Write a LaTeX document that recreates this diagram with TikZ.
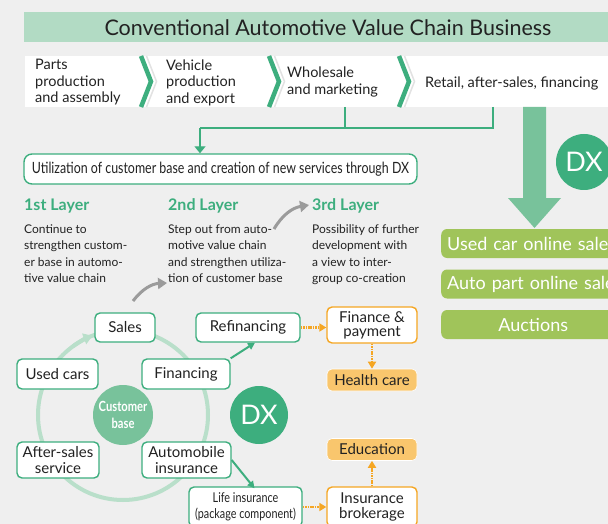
\documentclass[tikz,border=0pt]{standalone}
\usepackage{fontspec}
\setmainfont{Lato}
\newfontfamily\condfont[FakeStretch=0.8]{Lato}
\usetikzlibrary{arrows.meta, positioning}
\definecolor{bggray}{HTML}{EFEFEF}
\definecolor{gapgray}{HTML}{E2E2E2}
\definecolor{titlegreen}{HTML}{B2DBC4}
\definecolor{dxgreen}{HTML}{3DAE7E}
\definecolor{basegreen}{HTML}{78C29B}
\definecolor{ringgreen}{HTML}{B9DFCA}
\definecolor{limegreen}{HTML}{A0C45A}
\definecolor{dxorange}{HTML}{F5A623}
\definecolor{orfill}{HTML}{F9C66D}
\definecolor{arrgray}{HTML}{9B9B9B}
\definecolor{txt}{HTML}{222222}

\begin{document}
\begin{tikzpicture}[x=1pt, y=-1pt, >=Stealth,
    gbox/.style={rectangle, draw=dxgreen, line width=1.4pt, rounded corners=5pt, fill=white, align=center, text=txt, font=\fontsize{15}{15}\selectfont, inner sep=0pt},
    obox/.style={gbox, draw=dxorange},
    ofill/.style={gbox, draw=white, line width=0.6pt, fill=orfill},
    limebar/.style={rectangle, rounded corners=6pt, fill=limegreen, text=white, font=\fontsize{18}{18}\selectfont, minimum width=184pt, minimum height=29pt, text width=172pt, inner xsep=6pt, inner ysep=0pt, anchor=west},
    dxdot/.style={circle, fill=dxgreen, text=white, inner sep=0pt, font=\fontsize{27}{27}\selectfont},
    layerhead/.style={anchor=west, text=dxgreen, font=\bfseries\fontsize{16}{16}\selectfont, inner sep=0pt},
    layertext/.style={anchor=north west, align=left, text=txt, font=\fontsize{12}{16.4}\selectfont, inner sep=0pt},
    chaintext/.style={anchor=west, align=left, text=txt, font=\fontsize{14.5}{16.5}\selectfont, inner sep=0pt},
    garrow/.style={-{Triangle[length=7pt, width=7pt]}, draw=dxgreen, line width=2pt},
    oarrow/.style={-{Triangle[length=7pt, width=8pt]}, draw=dxorange, line width=2.6pt, dash pattern=on 1.6pt off 0.8pt},
    grayarrow/.style={-{Triangle[length=9pt, width=11pt]}, draw=arrgray, line width=3pt},
    chevron/.style={draw=dxgreen, line width=4.5pt},
    chevgap/.style={draw=gapgray, line width=1.5pt}]
  \useasboundingbox (0,0) rectangle (608,524);
  \fill[bggray] (0,0) rectangle (608,524);
  \clip (0,0) rectangle (608,524);

  % conventional value chain
  \fill[titlegreen] (24,12) rectangle (620,42);
  \node[text=txt, font=\fontsize{21.5}{21.5}\selectfont] (title) at (328,27.5) {Conventional Automotive Value Chain Business};
  \fill[white] (25,56) rectangle (620,107);
  \foreach \cx in {141,269,399} {
    \draw[chevron] (\cx,56) -- (\cx+10,81.5) -- (\cx,107);
    \draw[chevgap] (\cx+5.5,56) -- (\cx+15.5,81.5) -- (\cx+5.5,107);
  }
  \node[chaintext] (parts) at (35,82.5) {Parts\\production\\and assembly};
  \node[chaintext] (vehicle) at (166,82.5) {Vehicle\\production\\and export};
  \node[chaintext] (wholesale) at (287,82) {Wholesale\\and marketing};
  \node[chaintext] (retail) at (425,83) {Retail, after-sales, financing};

  % links to the DX box
  \coordinate (whsfoot) at (345,107);
  \coordinate (rtlfoot) at (493,107);
  \coordinate (join) at (200,128);
  \node[gbox, minimum width=393pt, minimum height=30pt, rounded corners=8pt, font=\condfont\fontsize{15.5}{15.5}\selectfont] (dxbox) at (220.5,169) {Utilization of customer base and creation of new services through DX};
  \draw[dxgreen, line width=1.3pt] (whsfoot) |- (join);
  \draw[dxgreen, line width=1.3pt] (rtlfoot) |- (join);
  \draw[dxgreen, line width=1.3pt, -{Triangle[length=7pt, width=11pt]}] (join) -- (dxbox.north -| join);

  % layers
  \node[layerhead] (layer1) at (24,206) {1st Layer};
  \node[layerhead] (layer2) at (168,206) {2nd Layer};
  \node[layerhead] (layer3) at (312,206) {3rd Layer};
  \node[layertext] (desc1) at (24,224.5) {Continue to\\strengthen custom-\\er base in automo-\\tive value chain};
  \node[layertext] (desc2) at (168,224.5) {Step out from auto-\\motive value chain\\and strengthen utiliza-\\tion of customer base};
  \node[layertext] (desc3) at (312,224.5) {Possibility of further\\development with\\a view to inter-\\group co-creation};
  \coordinate (up1s) at (133,301);
  \coordinate (up1e) at (167,283);
  \coordinate (up2s) at (274,229);
  \coordinate (up2e) at (309,205);
  \draw[grayarrow] (up1s) to[bend left=25] (up1e);
  \draw[grayarrow] (up2s) to[bend left=25] (up2e);

  % customer base ring
  \draw[ringgreen, line width=4pt] (123,415) circle[radius=85];
  \draw[ringgreen, line width=4pt, -{Triangle[length=9pt, width=11pt]}] (123,415) ++(-126:85) arc[start angle=-126, end angle=-111, radius=85];
  \node[circle, fill=basegreen, minimum size=60pt, inner sep=0pt, text=white, align=center, font=\condfont\bfseries\fontsize{14}{17}\selectfont] (cbase) at (123,415) {Customer\\base};
  \node[gbox, minimum width=60pt, minimum height=29pt] (sales) at (125,327.5) {Sales};
  \node[gbox, minimum width=81pt, minimum height=30pt] (usedcars) at (57.5,374) {Used cars};
  \node[gbox, minimum width=88pt, minimum height=30pt] (financing) at (186,374) {Financing};
  \node[gbox, minimum width=82pt, minimum height=36pt, font=\fontsize{15}{15.5}\selectfont] (aftersales) at (58,460) {After-sales\\service};
  \node[gbox, minimum width=89pt, minimum height=36pt, font=\fontsize{15}{15.5}\selectfont] (autoins) at (186.5,460) {Automobile\\insurance};

  % new services
  \node[dxdot, minimum size=58pt] (dxmid) at (259,415) {DX};
  \node[gbox, minimum width=104pt, minimum height=29pt] (refin) at (248,327.5) {Refinancing};
  \node[gbox, minimum width=113pt, minimum height=40pt, font=\condfont\fontsize{13.5}{16}\selectfont] (lifeins) at (245.5,507) {Life insurance\\(package component)};
  \node[obox, minimum width=90pt, minimum height=36pt, font=\fontsize{15}{14}\selectfont] (finpay) at (372,325) {Finance \&\\payment};
  \node[ofill, minimum width=90pt, minimum height=22pt] (health) at (372,380) {Health care};
  \node[ofill, minimum width=90pt, minimum height=22pt] (edu) at (372,449.5) {Education};
  \node[obox, minimum width=90pt, minimum height=40pt, font=\fontsize{15}{15}\selectfont] (broker) at (372,507) {Insurance\\brokerage};
  \draw[garrow] (financing.north east) -- ([xshift=7pt]refin.south);
  \draw[garrow] (autoins.east) -- ([xshift=9pt, yshift=-2pt]lifeins.north);
  \draw[oarrow] (refin.east) -- (refin.east -| finpay.west);
  \draw[oarrow] (finpay.south) -- (health.north);
  \draw[oarrow] (lifeins.east) -- (lifeins.east -| broker.west);
  \draw[oarrow] (broker.north) -- (edu.south);

  % online services
  \coordinate (bigs) at (534.5,107);
  \coordinate (bige) at (534.5,228);
  \fill[basegreen] (bigs) ++(-11.5,0) -- ++(23,0) -- (546,198) -- (561,198) -- (bige) -- (508,198) -- (523,198) -- cycle;
  \node[dxdot, minimum size=56pt] (dxright) at (584,162) {DX};
  \node[limebar, align=left] (usedonline) at (441,243.5) {Used car online sale};
  \node[limebar, align=left] (partonline) at (441,284) {Auto part online sale};
  \node[limebar, align=center] (auctions) at (441,324.5) {Auctions};
\end{tikzpicture}
\end{document}
